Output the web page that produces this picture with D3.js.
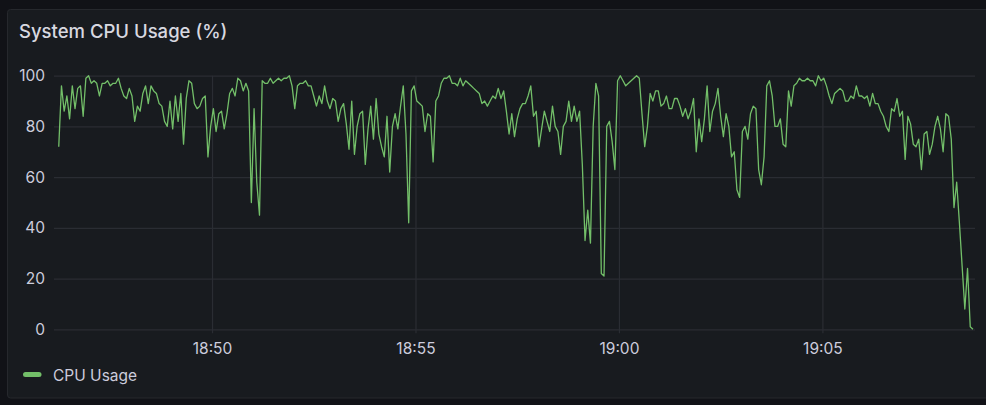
<!DOCTYPE html>
<html><head><meta charset="utf-8">
<script src="https://cdn.jsdelivr.net/npm/d3@7"></script>
<style>
html,body{margin:0;padding:0;background:#111217;overflow:hidden;}
svg{display:block;font-family:Inter,"Open Sans",sans-serif;}
</style></head><body>
<svg id="chart" width="986" height="405"></svg>
<script>
const chartTitle = "System CPU Usage (%)";
const seriesName = "CPU Usage";
const startTime = [18, 46, 14];
const stepSeconds = 4;
const domainStart = [18, 46, 7];
const domainEnd = [19, 8, 45];
const cpuValues = [
72,96,86,92,83,96,87,95,96,84,99,100,97,98,97,92,97,97,98,96,97,97,99,95,92,91,95,92,82,88,86,93,96,89,96,94,93,89,88,82,80,90,
79,92,82,93,73,91,98,97,89,87,88,91,92,68,80,87,78,85,86,79,85,93,95,92,99,98,94,97,94,50,87,58,45,98,97,97,99,97,98,99,98,99,
99,100,96,87,96,97,97,98,96,96,92,88,92,89,96,90,87,91,90,82,87,89,81,71,90,69,80,85,86,65,79,88,75,91,77,72,68,84,62,80,85,79,88,
96,77,42,94,96,90,89,88,78,85,84,66,90,92,97,99,99,100,97,97,96,99,96,98,97,96,95,94,93,89,90,88,90,92,91,95,91,94,86,77,85,76,
83,87,89,89,92,96,84,86,72,79,86,82,78,88,80,78,69,80,82,90,82,88,82,86,65,35,47,34,80,97,92,22,21,80,82,74,63,98,100,98,96,97,
98,99,100,99,85,72,80,93,90,94,94,88,89,92,87,87,91,91,88,84,87,83,86,91,70,83,74,83,96,78,86,89,95,84,76,85,80,68,70,55,52,78,
80,75,85,88,87,63,57,68,96,98,92,80,80,83,73,72,94,88,96,97,99,98,98,99,98,98,96,100,98,99,96,92,89,93,94,95,94,90,90,92,91,96,92,
92,91,92,88,93,89,89,86,84,80,78,87,86,91,84,86,67,84,81,73,72,75,63,77,78,69,73,80,84,79,70,85,84,75,48,58,42,25,8,24,1,0
];
const yTicks = [0, 20, 40, 60, 80, 100];
const xTickLabels = ["18:50", "18:55", "19:00", "19:05"];

const mkTime = (a) => new Date(2024, 0, 1, a[0], a[1], a[2] || 0);
const t0 = mkTime(startTime);
const data = cpuValues.map((v, i) => ({ t: new Date(t0.getTime() + i * stepSeconds * 1000), v }));
const parseHM = d3.timeParse("%H:%M");
const xTicks = xTickLabels.map(s => { const p = parseHM(s); return mkTime([p.getHours(), p.getMinutes(), 0]); });

const svg = d3.select("#chart");
const plot = { left: 54, right: 975, top: 75.7, bottom: 329.3 };

// page & panel
svg.append("rect").attr("x", 0).attr("y", 0).attr("width", 986).attr("height", 405).attr("fill", "#111217");
svg.append("rect").attr("x", 7.5).attr("y", 9.5).attr("width", 1000).attr("height", 388.5)
  .attr("rx", 3).attr("fill", "#181b1f").attr("stroke", "#26282d").attr("stroke-width", 1);

svg.append("text").attr("x", 19).attr("y", 37.5).text(chartTitle)
  .attr("fill", "#d8d9e0").attr("font-size", 18.5).attr("font-weight", 500);

const x = d3.scaleTime().domain([mkTime(domainStart), mkTime(domainEnd)]).range([plot.left, plot.right]);
const y = d3.scaleLinear().domain([0, 100]).range([plot.bottom, plot.top]);

const gridColor = "#2a2d33";
// y axis with grid
const yAxis = svg.append("g").attr("transform", `translate(${plot.left},0)`)
  .call(d3.axisLeft(y).tickValues(yTicks).tickSize(-(plot.right - plot.left)).tickPadding(9));
yAxis.select(".domain").remove();
yAxis.selectAll(".tick line").attr("stroke", gridColor).attr("stroke-width", 1.2);
yAxis.selectAll(".tick text").attr("fill", "#ccccdc").attr("font-size", 15.5).attr("font-family", "Inter,'Open Sans',sans-serif");

// x axis with grid
const xAxis = svg.append("g").attr("transform", `translate(0,${plot.bottom + 4})`)
  .call(d3.axisBottom(x).tickValues(xTicks).tickFormat(d3.timeFormat("%H:%M")).tickSize(-(plot.bottom + 4 - plot.top)).tickPadding(10));
xAxis.select(".domain").remove();
xAxis.selectAll(".tick line").attr("stroke", gridColor).attr("stroke-width", 1.2);
xAxis.selectAll(".tick text").attr("fill", "#ccccdc").attr("font-size", 15.5).attr("font-family", "Inter,'Open Sans',sans-serif");

// line
const line = d3.line().x(d => x(d.t)).y(d => y(d.v));
svg.append("path").datum(data).attr("d", line)
  .attr("fill", "none").attr("stroke", "#73bf69").attr("stroke-width", 1.3)
  .attr("stroke-linejoin", "round");

// legend
svg.append("rect").attr("x", 23).attr("y", 372).attr("width", 18.5).attr("height", 5).attr("rx", 2.5).attr("fill", "#73bf69");
svg.append("text").attr("x", 53).attr("y", 380.5).text(seriesName)
  .attr("fill", "#ccccdc").attr("font-size", 15.5);
</script>
</body></html>
